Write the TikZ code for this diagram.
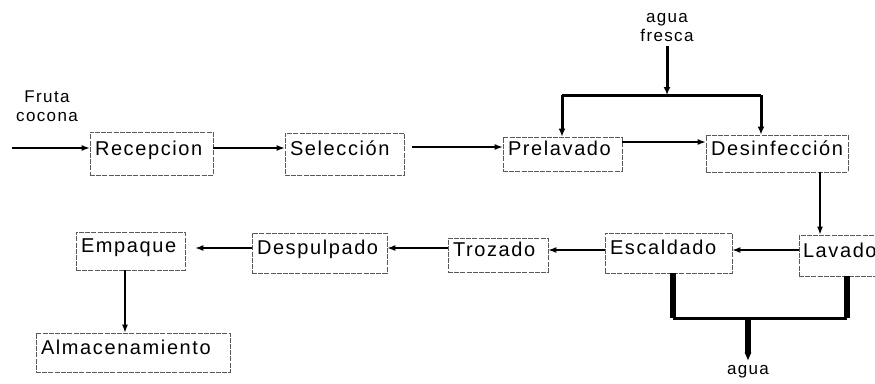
\documentclass[tikz,border=0pt]{standalone}
\usepackage{fontspec}
\setmainfont{Liberation Sans}[LetterSpace=8]
\usetikzlibrary{arrows.meta}
\begin{document}
\begin{tikzpicture}[x=1pt,y=-1pt,
  box/.style={draw=black!65, line width=0.8pt, dash pattern=on 5pt off 1.2pt,
    inner xsep=5pt, inner ysep=0pt, align=left, text height=15pt, text depth=12pt,
    font=\fontsize{20}{24}\selectfont},
  lbl/.style={align=center, inner sep=0pt, font=\fontsize{17}{19}\selectfont},
  arr/.style={line width=1.2pt, -{Latex[length=8pt,width=6pt]}},
  feed/.style={line width=3pt},
  feedarr/.style={line width=3pt, -{Latex[length=8pt,width=7pt]}},
  waste/.style={line width=5.5pt},
  wastearr/.style={line width=6pt, -{Triangle[length=8pt,width=6pt]}}]
\useasboundingbox (0,0) rectangle (875,383);
% nodes
\node[box, minimum height=43pt, text width=113pt] (rec) at (151.5,153.5) {Recepcion};
\node[box, minimum height=42pt, text width=109pt] (sel) at (344.5,154) {Selección};
\node[box, minimum height=34pt, text width=109pt] (pre) at (562.5,154) {Prelavado};
\node[box, minimum height=37pt, text width=132pt] (des) at (777,153.5) {Desinfección};
\node[box, minimum height=41pt, text width=74pt, inner xsep=4pt] (lav) at (840,255.5) {Lavado};
\node[box, minimum height=40pt, text width=117pt] (esc) at (668.5,253) {Escaldado};
\node[box, minimum height=34pt, text width=90pt] (tro) at (498,255) {Trozado};
\node[box, minimum height=40pt, text width=125pt] (desp) at (319.5,253) {Despulpado};
\node[box, minimum height=38pt, text width=99pt] (emp) at (130.5,251) {Empaque};
\node[box, minimum height=39pt, text width=184pt] (alm) at (133,352.5) {Almacenamiento};
\node[lbl] (fruta) at (47,106) {Fruta\\cocona};
\node[lbl] (fresca) at (667,28) {agua\\fresca};
\node[lbl] (aguab) at (748,372) {agua};
% coordinates
\coordinate (in) at (12,148);
\coordinate (j1) at (667,95);
\coordinate (wl) at (562,95);
\coordinate (wr) at (761,95);
\coordinate (b) at (748,318);
% main flow
\draw[arr] (in) -- (in -| rec.west);
\draw[arr] ([yshift=5.5pt]rec.east) -- ([yshift=5.5pt]rec.east -| sel.west);
\draw[arr, shorten <=8pt] ([yshift=7pt]sel.east) -- ([yshift=7pt]sel.east -| pre.west);
\draw[arr] ([yshift=12pt]pre.east) -- ([yshift=12pt]pre.east -| des.west);
\draw[arr] ([xshift=43pt]des.south) -- ([xshift=43pt]des.south |- lav.north);
\draw[arr] ([yshift=5.5pt]lav.west) -- ([yshift=5.5pt]lav.west -| esc.east);
\draw[arr] ([yshift=3pt]esc.west) -- ([yshift=3pt]esc.west -| tro.east);
\draw[arr] ([yshift=7pt]tro.west) -- ([yshift=7pt]tro.west -| desp.east);
\draw[arr, shorten >=10pt] ([yshift=5pt]desp.west) -- ([yshift=5pt]desp.west -| emp.east);
\draw[arr] ([xshift=-5.5pt]emp.south) -- ([xshift=-5.5pt]emp.south |- alm.north);
% fresh water
\draw[feedarr] ([yshift=-4pt]fresca.south) -- (j1);
\draw[feed] (wl) -- (wr);
\draw[feedarr] (wl) -- (wl |- pre.north);
\draw[feedarr] (wr) -- (wr |- des.north);
% waste water
\draw[waste] ([xshift=4.5pt]esc.south) -- ([xshift=4.5pt]esc.south |- b);
\draw[waste] ([xshift=7pt]lav.south) -- ([xshift=7pt]lav.south |- b);
\draw[line width=3pt] ([xshift=4.5pt]esc.south |- b) -- ([xshift=7pt]lav.south |- b);
\draw[wastearr] (b) -- ([yshift=5pt]aguab.north);
\end{tikzpicture}
\end{document}
